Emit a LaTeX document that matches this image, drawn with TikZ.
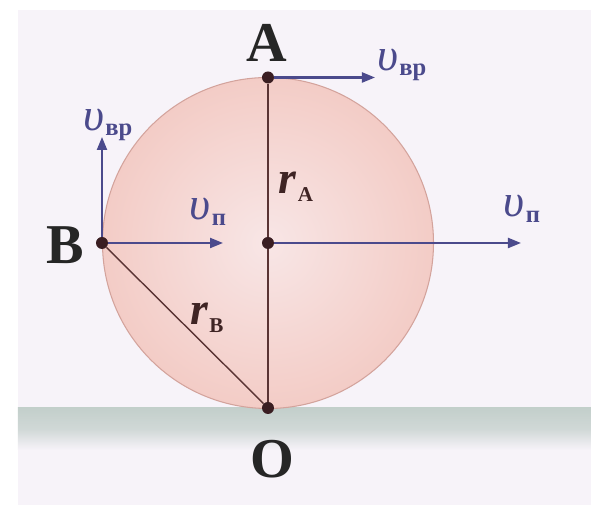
\documentclass[tikz,border=0pt]{standalone}
\usepackage{fontspec}
\setmainfont{Liberation Serif}
\usepackage{xcolor}
\usetikzlibrary{arrows.meta}

\definecolor{bgcol}{HTML}{F7F3F9}
\definecolor{grndcol}{HTML}{C3CFCB}
\definecolor{diskcol}{HTML}{F3CCC6}
\definecolor{diskin}{HTML}{F8E6E6}
\definecolor{rimcol}{HTML}{D3A39C}
\definecolor{radcol}{HTML}{5A3434}
\definecolor{dotcol}{HTML}{3A1E22}
\definecolor{velcol}{HTML}{4B4A8C}

\newcommand{\velo}[1]{\textit{υ}\kern0.5pt\raisebox{-0.12em}{\fontsize{14}{14}\selectfont\bfseries #1}}
\newcommand{\radi}[1]{\textbf{\textit{r}}\kern0.5pt\raisebox{-0.18em}{\fontsize{12}{12}\selectfont\bfseries #1}}

\begin{document}
\begin{tikzpicture}[
  dotnode/.style={circle, fill=dotcol, inner sep=0pt, minimum size=0.24cm},
  lbl/.style={font=\fontsize{32}{32}\selectfont\bfseries, text=black!85},
  vlbl/.style={font=\fontsize{26}{26}\selectfont, text=velcol},
  rlbl/.style={font=\fontsize{26}{26}\selectfont, text=radcol!70!black},
  vel/.style={-{Triangle[length=0.26cm, width=0.2cm]}, line width=1.2pt, velcol},
  radline/.style={line width=0.8pt, radcol}
]

% ── Frame ──
\useasboundingbox (0,0) rectangle (11.82,10.14);
\fill[white] (0,0) rectangle (11.82,10.14);
\fill[bgcol] (0.36,0.04) rectangle (11.82,9.94);

% ── Ground ──
\shade[top color=grndcol, bottom color=bgcol, middle color=grndcol!75!bgcol]
     (0.36,1.14) rectangle (11.82,1.98);

% ── Wheel ──
\shade[inner color=diskin, outer color=diskcol] (5.36,5.28) circle (3.31);
\draw[rimcol, line width=0.6pt] (5.36,5.28) circle (3.31);

% ── Points ──
\node[dotnode] (A) at (5.36,8.59) {};
\node[dotnode] (C) at (5.36,5.28) {};
\node[dotnode] (B) at (2.04,5.28) {};
\node[dotnode] (O) at (5.36,1.98) {};

% ── Radii ──
\draw[radline] (A) -- (C);
\draw[radline] (C) -- (O);
\draw[radline] (B) -- (O);

% ── Velocities ──
\coordinate (vA)  at (7.50,8.59);
\coordinate (vBu) at (2.04,7.40);
\coordinate (vBr) at (4.46,5.28);
\coordinate (vC)  at (10.42,5.28);
\draw[vel] (A) -- (vA);
\draw[vel] (B) -- (vBu);
\draw[vel] (B) -- (vBr);
\draw[vel] (C) -- (vC);

% ── Labels ──
\node[lbl] (lA) at (5.34,9.28) {A};
\node[lbl] (lB) at (1.30,5.24) {B};
\node[lbl] (lO) at (5.45,0.96) {O};
\node[vlbl] (tA)  at (8.04,8.84)  {\velo{вр}};
\node[vlbl] (tBu) at (2.16,7.64)  {\velo{вр}};
\node[vlbl] (tBr) at (4.16,5.90)  {\velo{п}};
\node[vlbl] (tC)  at (10.44,5.96) {\velo{п}};
\node[rlbl] (rA)  at (5.92,6.40)  {\radi{A}};
\node[rlbl] (rB)  at (4.14,3.78)  {\radi{B}};

\end{tikzpicture}
\end{document}
